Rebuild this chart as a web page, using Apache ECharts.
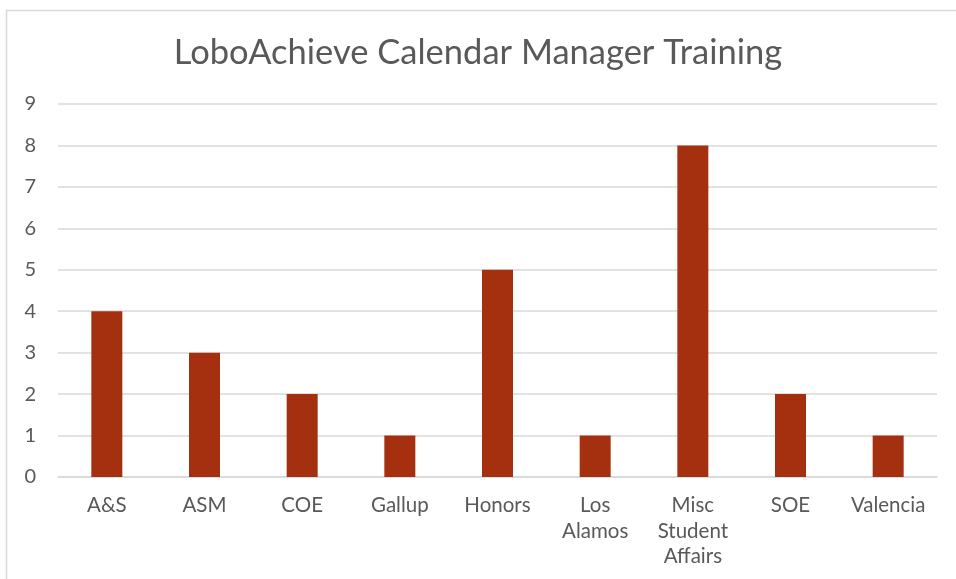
<!DOCTYPE html>
<html>
<head>
<meta charset="utf-8">
<script src="https://cdn.jsdelivr.net/npm/echarts@6/dist/echarts.min.js"></script>
<style>
html,body{margin:0;padding:0;background:#fff;}
#chart{width:956px;height:579px;}
</style>
</head>
<body>
<div id="chart"></div>
<script>
const titleText = "LoboAchieve Calendar Manager Training";
const categories = ["A&S", "ASM", "COE", "Gallup", "Honors", "Los Alamos", "Misc Student Affairs", "SOE", "Valencia"];
const values = [4, 3, 2, 1, 5, 1, 8, 2, 1];
const yTicks = { min: 0, max: 9, interval: 1 };

const chart = echarts.init(document.getElementById('chart'), null, { renderer: 'canvas' });
chart.setOption({
  animation: false,
  backgroundColor: '#ffffff',
  graphic: [{
    type: 'rect',
    shape: { x: 6.5, y: 10.5, width: 1000, height: 700 },
    style: { fill: 'none', stroke: '#d9d9d9', lineWidth: 1.5 },
    silent: true
  }],
  title: {
    text: titleText,
    left: 'center',
    top: 30,
    textStyle: { fontFamily: 'Lato', fontSize: 34.5, fontWeight: 'normal', color: '#595959' }
  },
  grid: { left: 58, right: 19, top: 104, bottom: 102, containLabel: false },
  xAxis: {
    type: 'category',
    data: categories,
    axisLine: { show: true, lineStyle: { color: '#d9d9d9', width: 1.5 } },
    axisTick: { show: false },
    axisLabel: {
      interval: 0,
      margin: 16,
      color: '#595959',
      fontFamily: 'Lato',
      fontSize: 20.5,
      lineHeight: 25.5,
      formatter: v => v.replace(/ /g, '\n')
    }
  },
  yAxis: {
    type: 'value',
    min: yTicks.min,
    max: yTicks.max,
    interval: yTicks.interval,
    axisLine: { show: false },
    axisTick: { show: false },
    axisLabel: { margin: 22, color: '#595959', fontFamily: 'Lato', fontSize: 20 },
    splitLine: { lineStyle: { color: '#d9d9d9', width: 1.5 } }
  },
  series: [{
    type: 'bar',
    data: values,
    barWidth: 31,
    itemStyle: { color: '#A5300F' }
  }]
});
</script>
</body>
</html>
